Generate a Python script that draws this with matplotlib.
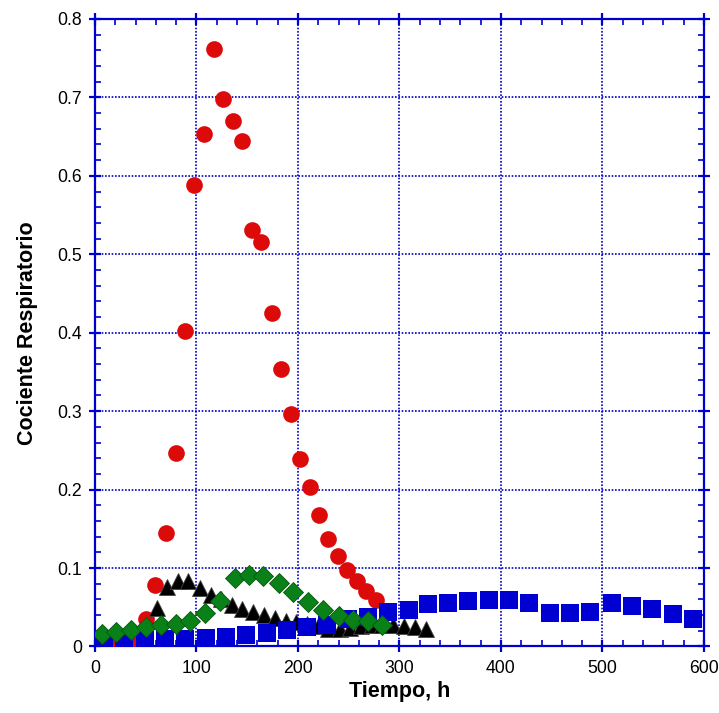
import matplotlib
matplotlib.use("Agg")
import matplotlib.pyplot as plt
from matplotlib.ticker import MultipleLocator, FormatStrFormatter

plt.rcParams['font.family'] = ['Liberation Sans', 'DejaVu Sans']

# Serie 1 (círculos rojos)
t_red = [2, 12, 21, 31, 40, 50, 59, 70, 80, 89, 98, 107, 117, 126, 136, 145,
         155, 164, 174, 183, 193, 202, 212, 221, 230, 239, 248, 258, 267, 277]
cr_red = [0.006, 0.004, 0.005, 0.006, 0.008, 0.035, 0.079, 0.145, 0.247, 0.402,
          0.588, 0.653, 0.762, 0.698, 0.670, 0.644, 0.531, 0.516, 0.425, 0.354,
          0.296, 0.239, 0.203, 0.167, 0.137, 0.115, 0.098, 0.083, 0.071, 0.059]

# Serie 2 (triángulos negros)
t_blk = [61, 71, 82, 92, 103, 114, 124, 135, 145, 156, 167, 177, 188, 198,
         209, 220, 230, 241, 251, 262, 273, 283, 294, 304, 315, 326]
cr_blk = [0.049, 0.076, 0.084, 0.084, 0.074, 0.065, 0.060, 0.053, 0.048, 0.044,
          0.040, 0.036, 0.033, 0.031, 0.029, 0.026, 0.022, 0.022, 0.024, 0.026,
          0.027, 0.027, 0.027, 0.026, 0.025, 0.022]

# Serie 3 (rombos verdes)
t_grn = [7, 21, 35, 50, 65, 80, 94, 108, 123, 138, 152, 166, 181, 195,
         210, 225, 240, 254, 269, 283]
cr_grn = [0.016, 0.019, 0.021, 0.025, 0.027, 0.029, 0.033, 0.043, 0.058, 0.087,
          0.091, 0.090, 0.081, 0.069, 0.057, 0.047, 0.039, 0.034, 0.032, 0.028]

# Serie 4 (cuadrados azules)
t_blu = [9, 29, 49, 69, 89, 109, 129, 149, 169, 189, 209, 229, 249, 269, 289,
         309, 328, 348, 368, 388, 408, 428, 448, 468, 488, 509, 529, 549, 569, 589]
cr_blu = [0.001, 0.003, 0.008, 0.009, 0.0095, 0.0105, 0.0125, 0.0147, 0.0176,
          0.021, 0.025, 0.028, 0.035, 0.038, 0.044, 0.047, 0.054, 0.056, 0.058,
          0.059, 0.059, 0.056, 0.043, 0.043, 0.044, 0.056, 0.052, 0.0475, 0.041,
          0.035]

x_ticks = [0, 100, 200, 300, 400, 500, 600]
y_ticks = [0, 0.1, 0.2, 0.3, 0.4, 0.5, 0.6, 0.7, 0.8]

AXIS_BLUE = '#0000cc'

fig = plt.figure(figsize=(7.19, 7.13), dpi=100)
ax = fig.add_axes([0.1321, 0.0933, 0.8470, 0.8801])

ax.plot(t_red, cr_red, 'o', color='#dd0a0a', markersize=12, markeredgewidth=0,
        zorder=3)
ax.plot(t_blk, cr_blk, '^', color='black', markersize=12, markeredgewidth=0.6,
        markeredgecolor='#444444', zorder=4)
ax.plot(t_blu, cr_blu, 's', color='#0000d2', markersize=13.5, markeredgewidth=0,
        zorder=5)
ax.plot(t_grn, cr_grn, 'D', color='#0a8018', markersize=10, markeredgewidth=0.6,
        markeredgecolor='#06560f', zorder=6)

ax.set_xlim(0, 600)
ax.set_ylim(0, 0.8)
ax.set_xticks(x_ticks)
ax.set_yticks(y_ticks)
ax.xaxis.set_minor_locator(MultipleLocator(20))
ax.yaxis.set_minor_locator(MultipleLocator(0.02))
ax.yaxis.set_major_formatter(FormatStrFormatter('%g'))

ax.grid(True, which='major', color=AXIS_BLUE, linestyle=(0, (1, 1)),
        linewidth=1.2, zorder=1)
ax.set_axisbelow(True)

for s in ax.spines.values():
    s.set_color(AXIS_BLUE)
    s.set_linewidth(1.6)

ax.tick_params(which='major', direction='inout', length=9, width=1.6,
               color=AXIS_BLUE, top=True, right=True, labelsize=12.7,
               labelcolor='black', pad=5)
ax.tick_params(which='minor', direction='in', length=4, width=1.2,
               color=AXIS_BLUE, top=True, right=True)

ax.set_xlabel('Tiempo, h', fontsize=15.5, fontweight='bold', labelpad=3)
ax.set_ylabel('Cociente Respiratorio', fontsize=15.5, fontweight='bold',
              labelpad=14)

fig.savefig('out.png', dpi=100)
